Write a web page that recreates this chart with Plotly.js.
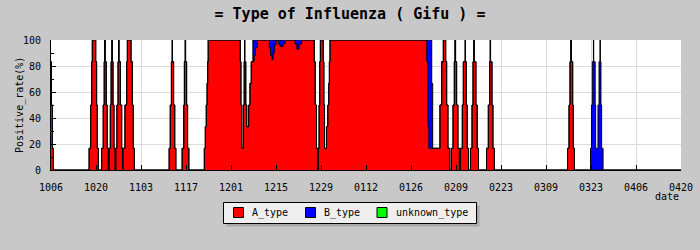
<!DOCTYPE html>
<html>
<head>
<meta charset="utf-8">
<script src="https://cdn.plot.ly/plotly-3.0.1.min.js"></script>
<style>
  html, body { margin: 0; padding: 0; background: #c8c8c8; }
  #chart { width: 700px; height: 250px; outline: 1px solid #000; outline-offset: -1px; }
</style>
</head>
<body>
<div id="chart"></div>
<script>
// x: days since 10/06 ; values: positive rate (%) per type (step data)
const dayOffsets = [
  0, 0.15, 0.45, 0.75,
  11.85, 12.35, 12.65, 12.85, 13.9, 14.2, 14.4, 14.75,
  15.75, 16.25, 16.55, 16.7, 16.85, 17.2, 17.5, 17.85,
  18.05, 18.45, 18.7, 18.95, 19.05, 19.3, 19.6, 19.95,
  20.15, 20.5, 20.85, 21.05, 21.15, 21.6, 22.0, 22.25,
  22.35, 23.0, 23.55, 23.75, 24.9, 25.3, 25.6, 25.95,
  36.75, 37.1, 37.45, 37.7, 37.8, 38.15, 38.5, 38.85,
  40.8, 41.3, 41.5, 41.75, 41.85, 42.2, 42.5, 42.9,
  47.7, 48.0, 48.3, 48.55, 48.75, 48.9, 58.9, 59.1, 59.3,
  59.8, 60.1, 60.2, 60.3, 60.6, 60.9,
  61.5, 61.9, 62.3, 62.8, 63.2, 63.6, 64.2,
  67.9, 68.3, 68.75, 69.1, 69.5, 70.0,
  70.7, 71.25, 72.2, 72.8,
  75.9, 76.5, 77.2, 78.0,
  81.9, 82.2, 82.6, 83.0,
  83.15, 83.4, 83.6, 83.8, 84.7, 84.9, 85.1,
  85.7, 86.1, 86.4, 86.6, 86.8,
  116.9, 117.25, 117.55, 118.45, 118.75,
  121.0, 121.55, 122.05, 122.8, 123.1, 123.5, 124.1,
  124.6, 125.07, 125.47, 125.7, 125.8, 126.2, 126.6, 127.05,
  127.4, 127.96, 128.27, 128.85, 128.95, 129.2, 129.5, 129.9,
  130.5, 130.98, 131.29, 131.55, 131.65, 132.2, 132.6, 133.0,
  135.5, 136.05, 136.48, 136.65, 136.75, 137.2, 137.5, 137.95,
  160.7, 161.16, 161.47, 161.75, 161.85, 162.3, 162.5, 162.85,
  167.85, 168.15, 168.4, 168.75, 168.85, 169.3, 169.45,
  170.17, 170.5, 170.8, 170.9, 171.1, 171.3, 171.75,
  196
];
const aTypeRate = [
  83.3, 50, 16.7, 0,
  16.7, 50, 83.3, 100, 83.3, 50, 16.7, 0,
  16.7, 50, 83.3, 100, 83.3, 50, 16.7, 0,
  16.7, 50, 83.3, 100, 83.3, 50, 16.7, 0,
  16.7, 50, 83.3, 100, 83.3, 50, 16.7, 0,
  16.7, 50, 83.3, 100, 83.3, 50, 16.7, 0,
  16.7, 50, 83.3, 100, 83.3, 50, 16.7, 0,
  16.7, 50, 83.3, 100, 83.3, 50, 16.7, 0,
  16.7, 33.3, 50, 66.7, 83.3, 100, 83.3, 50, 16.7,
  50, 83.3, 100, 83.3, 50, 33.3,
  50, 66.7, 83.3, 83.3, 88, 94, 100,
  94, 88, 85, 90, 96, 100,
  97, 95, 97, 100,
  97, 93, 97, 100,
  83.3, 50, 16.7, 0,
  16.7, 50, 83.3, 100, 83.3, 50, 16.7,
  33.3, 50, 66.7, 83.3, 100,
  83.3, 33.3, 16.7, 16.7, 16.7,
  50, 83.3, 100, 83.3, 50, 16.7, 0,
  16.7, 50, 83.3, 100, 83.3, 50, 16.7, 0,
  16.7, 50, 83.3, 100, 83.3, 50, 16.7, 0,
  16.7, 50, 83.3, 100, 83.3, 50, 16.7, 0,
  16.7, 50, 83.3, 100, 83.3, 50, 16.7, 0,
  16.7, 50, 83.3, 100, 83.3, 50, 16.7, 0,
  0, 0, 0, 0, 0, 0, 0,
  0, 0, 0, 0, 0, 0, 0,
  0
];
const bTypeRate = [
  0, 0, 0, 0,
  0, 0, 0, 0, 0, 0, 0, 0,
  0, 0, 0, 0, 0, 0, 0, 0,
  0, 0, 0, 0, 0, 0, 0, 0,
  0, 0, 0, 0, 0, 0, 0, 0,
  0, 0, 0, 0, 0, 0, 0, 0,
  0, 0, 0, 0, 0, 0, 0, 0,
  0, 0, 0, 0, 0, 0, 0, 0,
  0, 0, 0, 0, 0, 0, 0, 0, 0,
  0, 0, 0, 0, 0, 0,
  0, 0, 0, 16.7, 12, 6, 0,
  6, 12, 15, 10, 4, 0,
  3, 5, 3, 0,
  3, 7, 3, 0,
  0, 0, 0, 0,
  0, 0, 0, 0, 0, 0, 0,
  0, 0, 0, 0, 0,
  16.7, 66.7, 83.3, 50, 0,
  0, 0, 0, 0, 0, 0, 0,
  0, 0, 0, 0, 0, 0, 0, 0,
  0, 0, 0, 0, 0, 0, 0, 0,
  0, 0, 0, 0, 0, 0, 0, 0,
  0, 0, 0, 0, 0, 0, 0, 0,
  0, 0, 0, 0, 0, 0, 0, 0,
  16.7, 50, 83.3, 100, 83.3, 50, 16.7,
  50, 83.3, 100, 83.3, 50, 16.7, 0,
  0
];
const tickDays = [0, 14, 28, 42, 56, 70, 84, 98, 112, 126, 140, 154, 168, 182, 196];
const tickLabels = ['1006','1020','1103','1117','1201','1215','1229','0112','0126','0209','0223','0309','0323','0406','0420'];
const seriesNames = ['A_type', 'B_type', 'unknown_type'];
const seriesColors = ['#ff0000', '#0000ff', '#00ff00'];

const mono = 'DejaVu Sans Mono, monospace';

const traces = [
  { x: dayOffsets, y: aTypeRate, type: 'scatter', mode: 'lines', stackgroup: 'rate',
    line: { shape: 'hv', color: '#000', width: 1 }, fillcolor: seriesColors[0],
    name: seriesNames[0], showlegend: false, hoverinfo: 'skip' },
  { x: dayOffsets, y: bTypeRate, type: 'scatter', mode: 'lines', stackgroup: 'rate',
    line: { shape: 'hv', color: '#000', width: 1 }, fillcolor: seriesColors[1],
    name: seriesNames[1], showlegend: false, hoverinfo: 'skip' }
];

// plot area in pixels: x 51..681, y 40..170 ; helpers to place the legend box in paper units
const PX = p => (p - 51) / 630;
const PY = p => (170 - p) / 130;

const shapes = [
  { type: 'rect', xref: 'paper', yref: 'paper', x0: PX(226.5), x1: PX(479.5), y0: PY(226.5), y1: PY(205.5),
    fillcolor: '#a9a9a9', line: { width: 0 }, layer: 'above' },
  { type: 'rect', xref: 'paper', yref: 'paper', x0: PX(223.5), x1: PX(476.5), y0: PY(223.5), y1: PY(202.5),
    fillcolor: '#efefef', line: { color: '#000', width: 1 }, layer: 'above' }
];
const annotations = [
  { text: 'date', xref: 'paper', yref: 'paper', x: 1, xanchor: 'right', y: PY(196), yanchor: 'middle',
    showarrow: false, font: { family: mono, size: 10 } },
  { text: 'Positive_rate(%)', xref: 'paper', yref: 'paper', x: PX(20), xanchor: 'center', y: 0.5,
    yanchor: 'middle', textangle: -90, showarrow: false, font: { family: mono, size: 10 } }
];
const swatchLeft = [233.5, 305.5, 377];
const labelLeft = [249.5, 321.5, 393.5];
seriesNames.forEach((n, i) => {
  shapes.push({ type: 'rect', xref: 'paper', yref: 'paper', x0: PX(swatchLeft[i]), x1: PX(swatchLeft[i] + 10),
    y0: PY(217.5), y1: PY(207.5), fillcolor: seriesColors[i], line: { color: '#000', width: 1 }, layer: 'above' });
  annotations.push({ text: n, xref: 'paper', yref: 'paper', x: PX(labelLeft[i]), xanchor: 'left',
    y: PY(213), yanchor: 'middle', showarrow: false, font: { family: mono, size: 10 } });
});

const layout = {
  width: 700, height: 250,
  margin: { l: 51, r: 19, t: 40, b: 80 },
  paper_bgcolor: '#c8c8c8', plot_bgcolor: '#ffffff',
  font: { family: mono, size: 10, color: '#000' },
  title: { text: '= Type of Influenza ( Gifu ) =', font: { family: mono, size: 15, weight: 'bold', color: '#000' },
           x: 0.5, xref: 'container', y: 0.944, yref: 'container', yanchor: 'middle' },
  xaxis: { range: [0, 196], tickvals: tickDays, ticktext: tickLabels, ticks: 'inside', ticklen: 5,
           tickcolor: '#000', showline: true, linecolor: '#000', linewidth: 1,
           showgrid: true, gridcolor: '#dcdcdc', zeroline: false, ticklabelstandoff: 8,
           tickfont: { family: mono, size: 10 }, fixedrange: true },
  yaxis: { range: [0, 100], dtick: 20, ticks: 'inside', ticklen: 5, tickcolor: '#000',
           minor: { dtick: 10, ticks: 'inside', ticklen: 3, tickcolor: '#000', showgrid: false },
           showline: true, linecolor: '#000', linewidth: 1, showgrid: true, gridcolor: '#dcdcdc',
           zeroline: false, ticklabelstandoff: 7, tickfont: { family: mono, size: 10 } },
  showlegend: false,
  shapes: shapes,
  annotations: annotations
};

Plotly.newPlot('chart', traces, layout, { staticPlot: true, displayModeBar: false });
</script>
</body>
</html>
